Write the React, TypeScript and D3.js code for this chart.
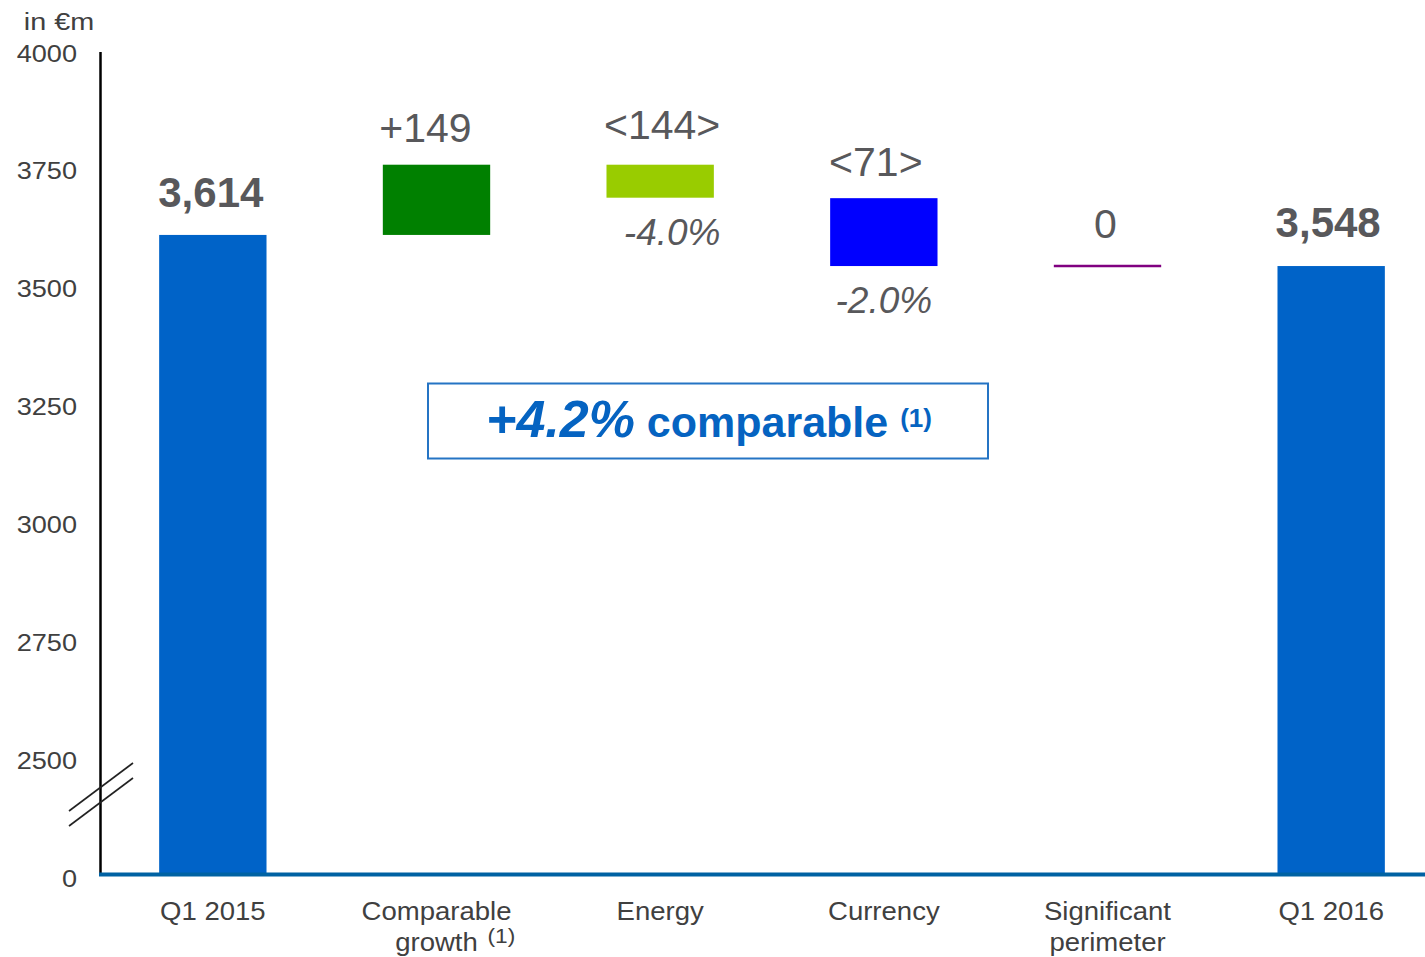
import React from "react";
import * as d3 from "d3";

const categories = ["Q1 2015", "Comparable growth", "Energy", "Currency", "Significant perimeter", "Q1 2016"];
const xLabelLines = [["Q1 2015"], ["Comparable", "growth"], ["Energy"], ["Currency"], ["Significant", "perimeter"], ["Q1 2016"]];
const xLabelNotes = ["", "(1)", "", "", "", ""];
const barStart = [0, 3614, 3693, 3548, 3548, 0];
const barEnd = [3614, 3763, 3763, 3692, 3548, 3548];
const valueLabels = ["3,614", "+149", "<144>", "<71>", "0", "3,548"];
const valueIsTotal = [true, false, false, false, false, true];
const pctLabels = ["", "", "-4.0%", "-2.0%", "", ""];
const yTicks = [0, 2500, 2750, 3000, 3250, 3500, 3750, 4000];
const unitLabel = "in €m";
const boxMain = "+4.2%";
const boxWord = "comparable";
const boxNote = "(1)";

// layout / style (not data)
const barColors = ["#0063C8", "#008000", "#99CC00", "#0000FF", "#800080", "#0063C8"];
const valueDx = [-2, -11, 2, -8, -2, -3];
const valueGap = [28, 23, 26, 22, 28, 29];
const pctDx = [0, 0, 12, 0, 0, 0];

const W = 1425;
const H = 957;
const FONT = "'Liberation Sans', Arial, Helvetica, sans-serif";
const GRAY = "#404040";
const VAL = "#58585B";
const BOXBLUE = "#0563C1";

export default function App() {
  const x = d3
    .scaleBand<string>()
    .domain(categories)
    .range([101, 1443])
    .paddingInner(0.52)
    .paddingOuter(0.26)
    .align(0.5);
  const y = d3.scaleLinear().domain([0, 2500, 4000]).range([876, 760, 53]);
  const bw = x.bandwidth();

  return (
    <svg
      width={W}
      height={H}
      viewBox={`0 0 ${W} ${H}`}
      style={{ position: "absolute", left: 0, top: 0, display: "block", background: "#fff" }}
      fontFamily={FONT}
    >
      <rect x={0} y={0} width={W} height={H} fill="#fff" />

      {/* unit label */}
      <text transform={`translate(59,30) scale(1.2,1)`} textAnchor="middle" fontSize={24} fill={GRAY}>
        {unitLabel}
      </text>

      {/* y tick labels */}
      {yTicks.map((t) => (
        <text
          key={t}
          transform={`translate(77,${y(t) + 0.36 * 24 + (t === 0 ? 2 : 0)}) scale(1.13,1)`}
          textAnchor="end"
          fontSize={24}
          fill={GRAY}
        >
          {t}
        </text>
      ))}

      {/* bars */}
      {categories.map((c, i) => {
        const x0 = x(c) as number;
        const top = y(Math.max(barStart[i], barEnd[i]));
        const bot = y(Math.min(barStart[i], barEnd[i]));
        if (barStart[i] === barEnd[i]) {
          return (
            <line key={c} x1={x0} x2={x0 + bw} y1={top} y2={top} stroke={barColors[i]} strokeWidth={2.5} />
          );
        }
        return <rect key={c} x={x0} y={top} width={bw} height={bot - top} fill={barColors[i]} />;
      })}

      {/* value labels */}
      {categories.map((c, i) => {
        const cx = (x(c) as number) + bw / 2;
        const top = y(Math.max(barStart[i], barEnd[i]));
        const total = valueIsTotal[i];
        return (
          <text
            key={"v" + c}
            x={cx + valueDx[i]}
            y={top - valueGap[i]}
            textAnchor="middle"
            fontSize={total ? 42 : 41}
            fontWeight={total ? "bold" : "normal"}
            fill={VAL}
          >
            {valueLabels[i]}
          </text>
        );
      })}

      {/* percentage labels */}
      {categories.map((c, i) => {
        if (!pctLabels[i]) return null;
        const cx = (x(c) as number) + bw / 2;
        const bot = y(Math.min(barStart[i], barEnd[i]));
        return (
          <text
            key={"p" + c}
            x={cx + pctDx[i]}
            y={bot + 47}
            textAnchor="middle"
            fontSize={37}
            fontStyle="italic"
            fill={VAL}
          >
            {pctLabels[i]}
          </text>
        );
      })}

      {/* y axis line */}
      <line x1={100.5} x2={100.5} y1={52} y2={876} stroke="#000" strokeWidth={2.5} />

      {/* axis break marks */}
      <line x1={69} y1={811} x2={133} y2={763} stroke="#222" strokeWidth={1.6} />
      <line x1={69} y1={826} x2={133} y2={778} stroke="#222" strokeWidth={1.6} />

      {/* x axis line */}
      <line x1={99} x2={W} y1={y(0) - 1.5} y2={y(0) - 1.5} stroke="#0062A3" strokeWidth={4} />

      {/* x labels */}
      {categories.map((c, i) => {
        const cx = (x(c) as number) + bw / 2;
        return (
          <g key={"x" + c}>
            {xLabelLines[i].map((line, j) => (
              <text
                key={j}
                transform={`translate(${cx},${920 + j * 30.5}) scale(1.08,1)`}
                textAnchor="middle"
                fontSize={25.5}
                fill={GRAY}
              >
                {line}
              </text>
            ))}
            {xLabelNotes[i] ? (
              <text
                transform={`translate(${cx + 51},${943}) scale(1.08,1)`}
                textAnchor="start"
                fontSize={21}
                fill={GRAY}
              >
                {xLabelNotes[i]}
              </text>
            ) : null}
          </g>
        );
      })}

      {/* comparable box */}
      <rect x={428} y={383.5} width={560} height={75} fill="#fff" stroke="#2574C4" strokeWidth={2} />
      <text x={709} y={437} textAnchor="middle" fill={BOXBLUE} fontWeight="bold">
        <tspan fontSize={52} fontStyle="italic">
          {boxMain}
        </tspan>
        <tspan fontSize={43}> {boxWord} </tspan>
        <tspan fontSize={26} dy={-10.5}>
          {boxNote}
        </tspan>
      </text>
    </svg>
  );
}
